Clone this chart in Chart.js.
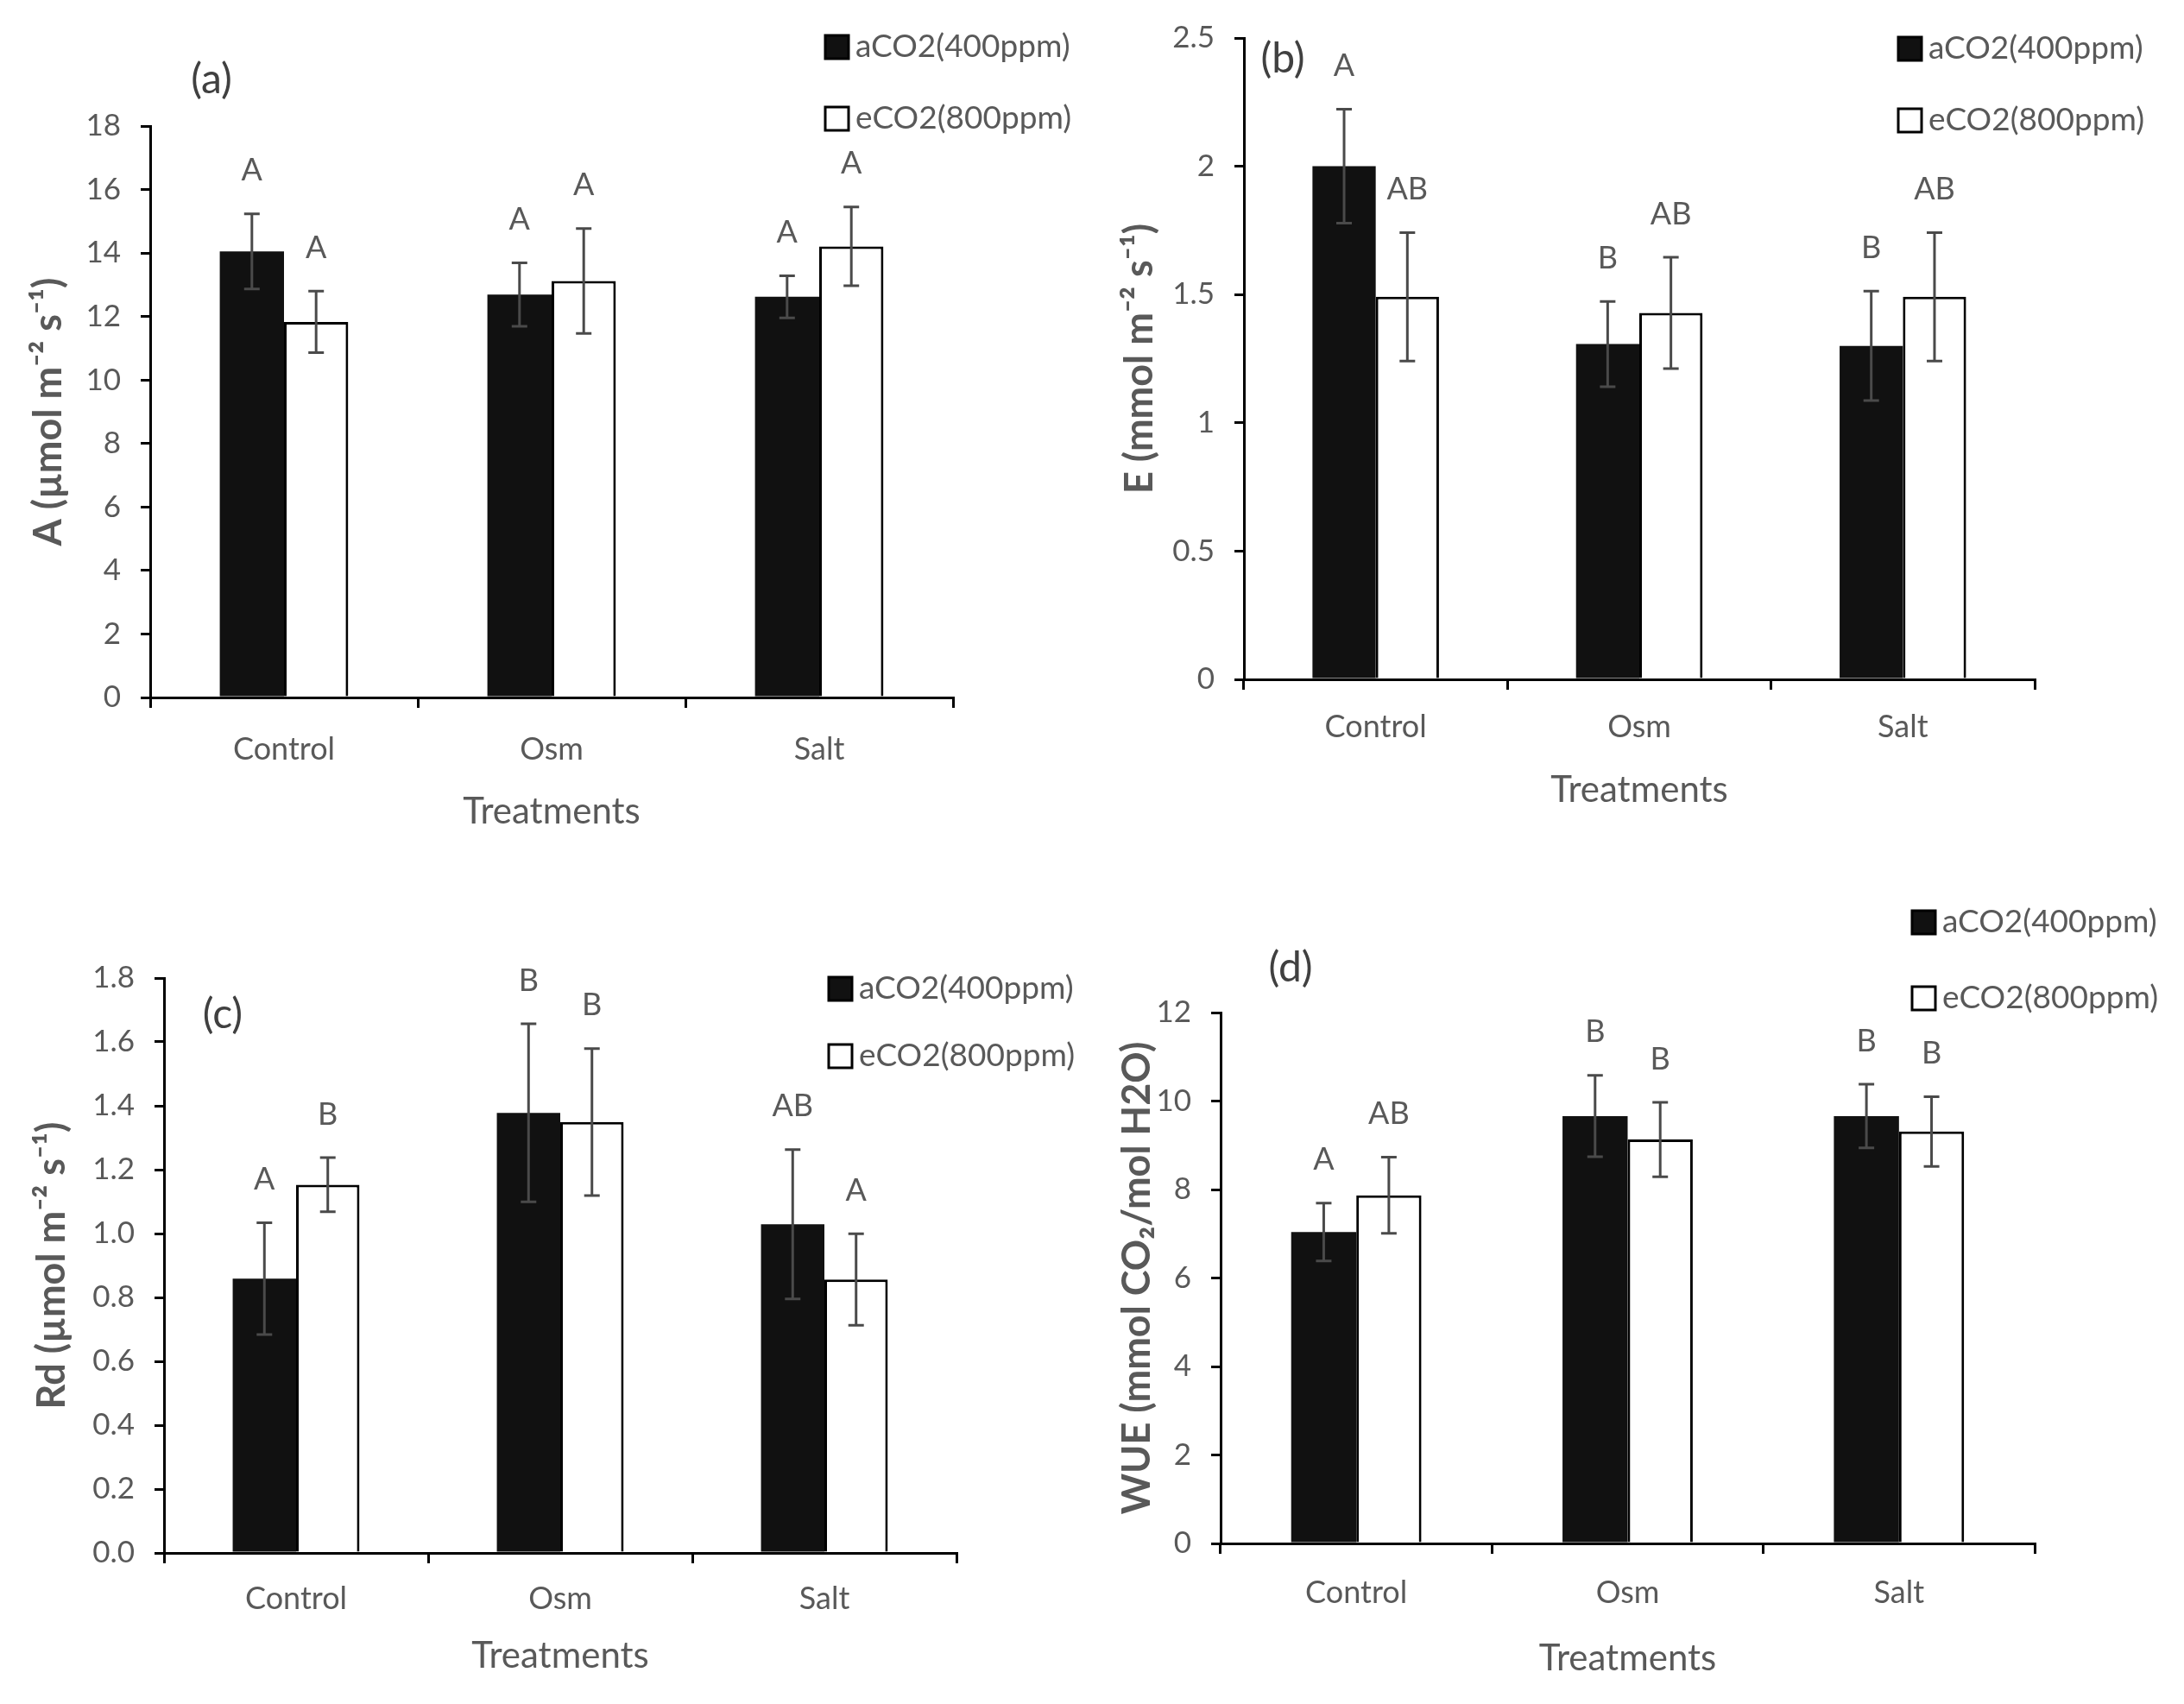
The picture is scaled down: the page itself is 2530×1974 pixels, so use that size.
<!DOCTYPE html>
<html>
<head>
<meta charset="utf-8">
<title>Gas exchange under aCO2 / eCO2</title>
<script src="https://cdn.jsdelivr.net/npm/chart.js@4.4.1/dist/chart.umd.min.js"></script>
<style>
  html, body { margin: 0; padding: 0; background: #fff; }
  .panel { position: absolute; width: 1265px; height: 987px; }
</style>
</head>
<body>
<div class="panel" style="left:0;top:0"><canvas id="chartA" width="1265" height="987"></canvas></div>
<div class="panel" style="left:1265px;top:0"><canvas id="chartE" width="1265" height="987"></canvas></div>
<div class="panel" style="left:0;top:987px"><canvas id="chartRd" width="1265" height="987"></canvas></div>
<div class="panel" style="left:1265px;top:987px"><canvas id="chartWue" width="1265" height="987"></canvas></div>
<script>
// categorias y series (comunes a los 4 paneles)
var categories = ['Control', 'Osm', 'Salt'];
var seriesNames = ['aCO2(400ppm)', 'eCO2(800ppm)'];

// (a) A - fotosintesis neta
var photoAmb = [14.05, 12.69, 12.62];
var photoAmbErr = [1.18, 1.00, 0.66];
var photoEle = [11.83, 13.12, 14.21];
var photoEleErr = [0.97, 1.65, 1.24];
var photoAmbLetters = ['A', 'A', 'A'];
var photoEleLetters = ['A', 'A', 'A'];
var photoTicks = ['0', '2', '4', '6', '8', '10', '12', '14', '16', '18'];

// (b) E - transpiracion
var transAmb = [2.00, 1.307, 1.30];
var transAmbErr = [0.222, 0.166, 0.213];
var transEle = [1.491, 1.428, 1.491];
var transEleErr = [0.25, 0.217, 0.25];
var transAmbLetters = ['A', 'B', 'B'];
var transEleLetters = ['AB', 'AB', 'AB'];
var transTicks = ['0', '0.5', '1', '1.5', '2', '2.5'];

// (c) Rd - respiracion oscura
var respAmb = [0.859, 1.378, 1.029];
var respAmbErr = [0.175, 0.279, 0.234];
var respEle = [1.153, 1.349, 0.856];
var respEleErr = [0.085, 0.23, 0.143];
var respAmbLetters = ['A', 'B', 'AB'];
var respEleLetters = ['B', 'B', 'A'];
var respTicks = ['0.0', '0.2', '0.4', '0.6', '0.8', '1.0', '1.2', '1.4', '1.6', '1.8'];

// (d) WUE
var wueAmb = [7.04, 9.66, 9.66];
var wueAmbErr = [0.655, 0.92, 0.72];
var wueEle = [7.87, 9.13, 9.31];
var wueEleErr = [0.86, 0.84, 0.79];
var wueAmbLetters = ['A', 'B', 'B'];
var wueEleLetters = ['AB', 'B', 'B'];
var wueTicks = ['0', '2', '4', '6', '8', '10', '12'];

var GRAY = '#595959';
var W = 1265, H = 987;
Chart.defaults.font.family = 'Lato, "Open Sans", sans-serif';

// barras de error + letras de significancia
var errorBarsPlugin = {
  id: 'errorBars',
  afterDatasetsDraw: function (chart) {
    var ctx = chart.ctx;
    var yScale = chart.scales.y;
    ctx.save();
    chart.data.datasets.forEach(function (ds, i) {
      var meta = chart.getDatasetMeta(i);
      meta.data.forEach(function (bar, j) {
        var v = ds.data[j], e = ds.errors[j];
        var top = yScale.getPixelForValue(v + e);
        var bottom = yScale.getPixelForValue(v - e);
        ctx.strokeStyle = '#4a4a4a';
        ctx.lineWidth = 3;
        ctx.beginPath();
        ctx.moveTo(bar.x, top); ctx.lineTo(bar.x, bottom);
        ctx.moveTo(bar.x - 9, top); ctx.lineTo(bar.x + 9, top);
        ctx.moveTo(bar.x - 9, bottom); ctx.lineTo(bar.x + 9, bottom);
        ctx.stroke();
        // letra encima de la barra de error
        ctx.fillStyle = GRAY;
        ctx.font = '36px Lato, "Open Sans", sans-serif';
        ctx.textAlign = 'center';
        ctx.textBaseline = 'middle';
        ctx.fillText(ds.letters[j], bar.x, top - 50);
      });
    });
    ctx.restore();
  }
};

// leyenda con cuadros y etiqueta del panel
var boxLegendPlugin = {
  id: 'boxLegend',
  afterDraw: function (chart, args, opts) {
    var ctx = chart.ctx;
    ctx.save();
    chart.data.datasets.forEach(function (ds, i) {
      var x = opts.x, y = opts.y + i * opts.gap, s = 27;
      ctx.fillStyle = ds.backgroundColor;
      ctx.fillRect(x, y, s, s);
      ctx.lineWidth = 3;
      ctx.strokeStyle = '#000';
      ctx.strokeRect(x, y, s, s);
      ctx.fillStyle = GRAY;
      ctx.font = '37px Lato, "Open Sans", sans-serif';
      ctx.textAlign = 'left';
      ctx.textBaseline = 'middle';
      ctx.fillText(ds.label, x + s + 8, y + s / 2);
    });
    ctx.font = '48px Lato, "Open Sans", sans-serif';
    ctx.textAlign = 'center';
    ctx.textBaseline = 'middle';
    ctx.fillStyle = '#404040';
    ctx.fillText(opts.panel, opts.panelX, opts.panelY);
    ctx.restore();
  }
};

function makePanel(id, p) {
  var area = p.area; // izquierda, arriba, derecha, abajo del area de trazado
  return new Chart(document.getElementById(id), {
    type: 'bar',
    data: {
      labels: categories,
      datasets: [
        { label: seriesNames[0], data: p.amb, errors: p.ambErr, letters: p.ambLetters,
          backgroundColor: '#111111', borderWidth: 0,
          categoryPercentage: 0.48, barPercentage: 1.0 },
        { label: seriesNames[1], data: p.ele, errors: p.eleErr, letters: p.eleLetters,
          backgroundColor: '#ffffff', borderColor: '#000000', borderWidth: 3,
          categoryPercentage: 0.48, barPercentage: 1.0 }
      ]
    },
    options: {
      responsive: false,
      animation: false,
      layout: { padding: { left: 0, top: area[1], right: W - area[2], bottom: 0 } },
      plugins: {
        legend: { display: false },
        tooltip: { enabled: false },
        boxLegend: p.legend
      },
      scales: {
        x: {
          grid: { display: true, drawOnChartArea: false, drawTicks: true, tickLength: 12,
                  color: '#000', lineWidth: 3, offset: true },
          border: { display: true, color: '#000', width: 3 },
          ticks: { color: GRAY, font: { size: 36 }, padding: p.catPad },
          title: { display: true, text: 'Treatments', color: GRAY, font: { size: 42 },
                   padding: { top: 0, bottom: p.xTitlePad } },
          afterFit: function (s) { s.height = H - area[3]; }
        },
        y: {
          min: parseFloat(p.ticks[0]),
          max: parseFloat(p.ticks[p.ticks.length - 1]),
          afterBuildTicks: function (s) {
            s.ticks = p.ticks.map(function (t) { return { value: parseFloat(t) }; });
          },
          grid: { display: true, drawOnChartArea: false, drawTicks: true, tickLength: 11,
                  color: '#000', lineWidth: 3 },
          border: { display: true, color: '#000', width: 3 },
          ticks: { color: GRAY, font: { size: 35 }, padding: 23,
                   callback: function (v, i) { return p.ticks[i]; } },
          title: { display: true, text: p.yTitle, color: GRAY,
                   font: { size: 45, weight: 'bold' },
                   padding: { top: p.yTitlePad, bottom: 0 } },
          afterFit: function (s) { s.width = area[0]; }
        }
      }
    },
    plugins: [errorBarsPlugin, boxLegendPlugin]
  });
}

makePanel('chartA', {
  amb: photoAmb, ambErr: photoAmbErr, ele: photoEle, eleErr: photoEleErr,
  ambLetters: photoAmbLetters, eleLetters: photoEleLetters, ticks: photoTicks,
  yTitle: 'A (\u00b5mol m\u207b\u00b2 s\u207b\u00b9)',
  area: [174, 146, 1104, 808], catPad: 27, xTitlePad: 21, yTitlePad: 29,
  legend: { x: 956, y: 41, gap: 83, panel: '(a)', panelX: 245, panelY: 93 }
});

makePanel('chartE', {
  amb: transAmb, ambErr: transAmbErr, ele: transEle, eleErr: transEleErr,
  ambLetters: transAmbLetters, eleLetters: transEleLetters, ticks: transTicks,
  yTitle: 'E (mmol m\u207b\u00b2 s\u207b\u00b9)',
  area: [176, 43, 1092, 787], catPad: 22, xTitlePad: 46, yTitlePad: 28,
  legend: { x: 934, y: 43, gap: 83, panel: '(b)', panelX: 221, panelY: 69 }
});

makePanel('chartRd', {
  amb: respAmb, ambErr: respAmbErr, ele: respEle, eleErr: respEleErr,
  ambLetters: respAmbLetters, eleLetters: respEleLetters, ticks: respTicks,
  yTitle: 'Rd (\u00b5mol m\u207b\u00b2 s\u207b\u00b9)',
  area: [190, 146, 1108, 812], catPad: 20, xTitlePad: 30, yTitlePad: 33,
  legend: { x: 960, y: 145, gap: 78, panel: '(c)', panelX: 258, panelY: 189 }
});

makePanel('chartWue', {
  amb: wueAmb, ambErr: wueAmbErr, ele: wueEle, eleErr: wueEleErr,
  ambLetters: wueAmbLetters, eleLetters: wueEleLetters, ticks: wueTicks,
  yTitle: 'WUE (mmol CO\u2082/mol H2O)',
  area: [149, 186, 1092, 801], catPad: 24, xTitlePad: 27, yTitlePad: 25,
  legend: { x: 950, y: 68, gap: 88, panel: '(d)', panelX: 230, panelY: 135 }
});
</script>
</body>
</html>
